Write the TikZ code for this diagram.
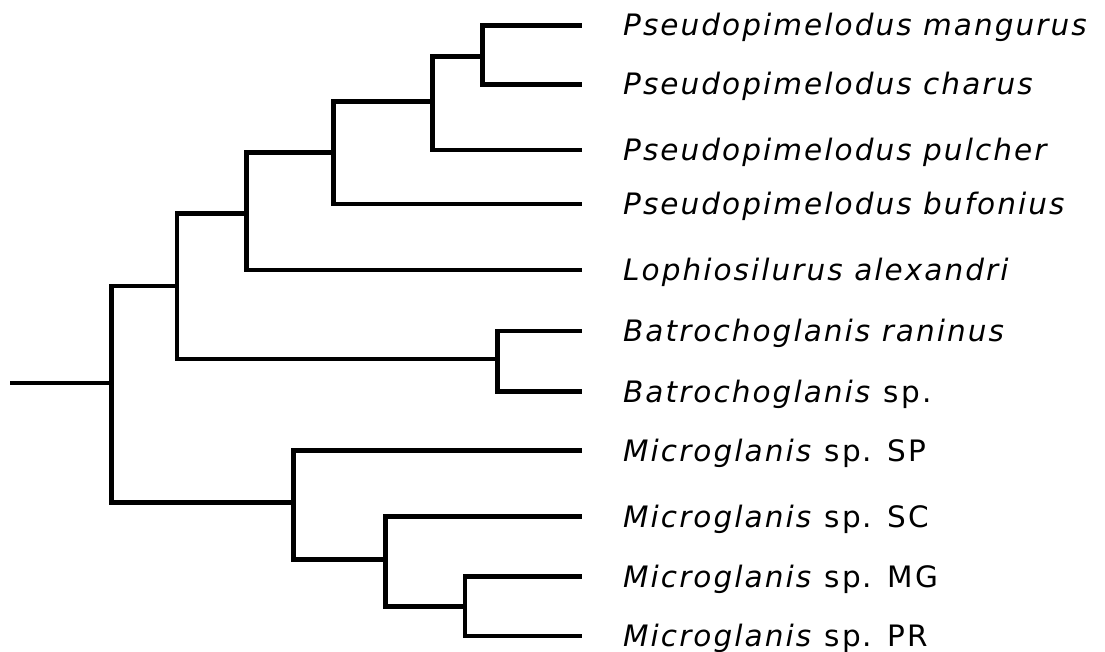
\documentclass[tikz,border=0pt]{standalone}
\usepackage{fontspec}
\setmainfont{DejaVu Sans}[LetterSpace=7]
\usetikzlibrary{positioning}
\tikzset{
  branch/.style={line width=4.6pt, line join=miter},
  taxon/.style={anchor=base west, inner sep=0pt, font=\fontsize{29.5}{30}\selectfont}
}
\begin{document}
\begin{tikzpicture}[x=1pt, y=-1pt]
\useasboundingbox (0,0) rectangle (1105,652);
% tips
\coordinate (t1) at (582,25.3);
\coordinate (t2) at (582,84.3);
\coordinate (t3) at (582,150);
\coordinate (t4) at (582,204);
\coordinate (t5) at (582,270);
\coordinate (t6) at (582,331);
\coordinate (t7) at (582,391.5);
\coordinate (t8) at (582,450.7);
\coordinate (t9) at (582,516.7);
\coordinate (t10) at (582,576.7);
\coordinate (t11) at (582,636);
% labels
\node[taxon] (n1) at (623,36) {\textit{Pseudopimelodus mangurus}};
\node[taxon] (n2) at (623,95) {\textit{Pseudopimelodus charus}};
\node[taxon] (n3) at (623,160.7) {\textit{Pseudopimelodus pulcher}};
\node[taxon] (n4) at (623,214.7) {\textit{Pseudopimelodus bufonius}};
\node[taxon] (n5) at (623,280.7) {\textit{Lophiosilurus alexandri}};
\node[taxon] (n6) at (623,341.7) {\textit{Batrochoglanis raninus}};
\node[taxon] (n7) at (623,402.2) {\textit{Batrochoglanis} sp.};
\node[taxon] (n8) at (623,461.4) {\textit{Microglanis} sp. SP};
\node[taxon] (n9) at (623,527.4) {\textit{Microglanis} sp. SC};
\node[taxon] (n10) at (623,587.4) {\textit{Microglanis} sp. MG};
\node[taxon] (n11) at (623,646.7) {\textit{Microglanis} sp. PR};
% internal nodes
\coordinate (root) at (10,383);
\coordinate (R) at (111.7,383);
\coordinate (A) at (177,286);
\coordinate (B) at (246.7,213.3);
\coordinate (C) at (333.3,152.3);
\coordinate (D) at (432.3,101.7);
\coordinate (E) at (482.7,56.7);
\coordinate (Bt) at (497.7,359);
\coordinate (M) at (293.3,502.3);
\coordinate (S) at (385.7,559.3);
\coordinate (G) at (465,606.7);
% branches
\draw[branch] (root) -- (R);
\draw[branch] (R) |- (A);
\draw[branch] (R) |- (M);
\draw[branch] (A) |- (B);
\draw[branch] (A) |- (Bt);
\draw[branch] (B) |- (C);
\draw[branch] (B) |- (t5);
\draw[branch] (C) |- (D);
\draw[branch] (C) |- (t4);
\draw[branch] (D) |- (E);
\draw[branch] (D) |- (t3);
\draw[branch] (E) |- (t1);
\draw[branch] (E) |- (t2);
\draw[branch] (Bt) |- (t6);
\draw[branch] (Bt) |- (t7);
\draw[branch] (M) |- (t8);
\draw[branch] (M) |- (S);
\draw[branch] (S) |- (t9);
\draw[branch] (S) |- (G);
\draw[branch] (G) |- (t10);
\draw[branch] (G) |- (t11);
\end{tikzpicture}
\end{document}
